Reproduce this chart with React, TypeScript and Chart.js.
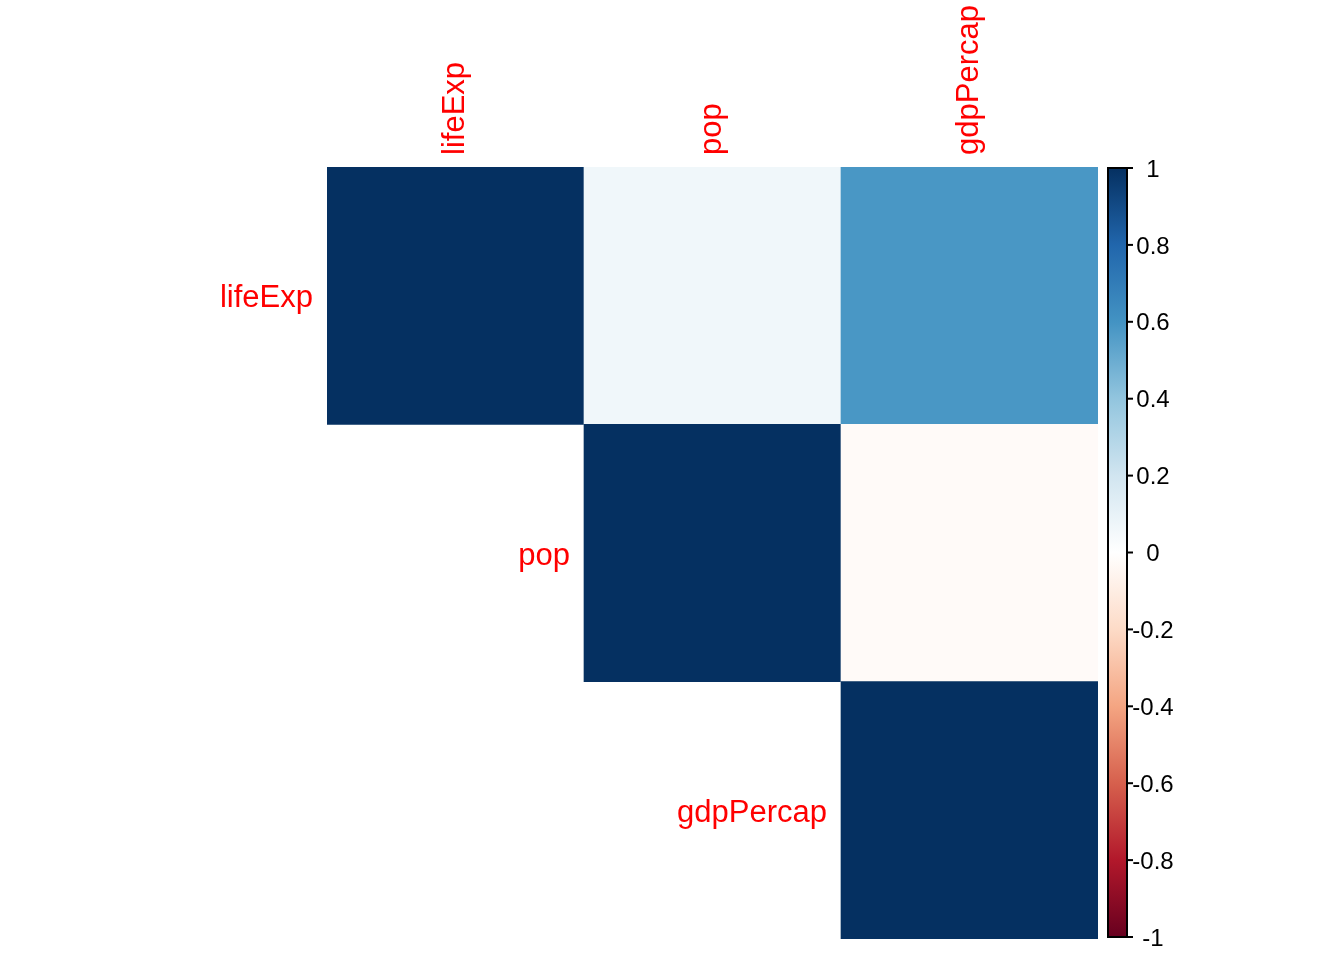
import React, { useEffect, useRef } from "react";
import { Chart, registerables } from "chart.js";

Chart.register(...registerables);

// ---- data ----
const variables = ["lifeExp", "pop", "gdpPercap"];
const corrLifeExp = [1.0, 0.065, 0.584];
const corrPop = [0.065, 1.0, -0.026];
const corrGdpPercap = [0.584, -0.026, 1.0];
const colorbarTicks = [-1, -0.8, -0.6, -0.4, -0.2, 0, 0.2, 0.4, 0.6, 0.8, 1];
const colorbarTickLabels = ["-1", "-0.8", "-0.6", "-0.4", "-0.2", "0", "0.2", "0.4", "0.6", "0.8", "1"];
const paletteRdBu = [
  "#67001F", "#B2182B", "#D6604D", "#F4A582", "#FDDBC7", "#FFFFFF",
  "#D1E5F0", "#92C5DE", "#4393C3", "#2166AC", "#053061",
];

const corrRows = [corrLifeExp, corrPop, corrGdpPercap];

function hexToRgb(h: string) {
  return [parseInt(h.slice(1, 3), 16), parseInt(h.slice(3, 5), 16), parseInt(h.slice(5, 7), 16)];
}
function colorFor(v: number) {
  const t = ((v + 1) / 2) * (paletteRdBu.length - 1);
  const i = Math.max(0, Math.min(paletteRdBu.length - 2, Math.floor(t)));
  const f = t - i;
  const a = hexToRgb(paletteRdBu[i]);
  const b = hexToRgb(paletteRdBu[i + 1]);
  const c = a.map((x, k) => Math.round(x + (b[k] - x) * f));
  return `rgb(${c[0]},${c[1]},${c[2]})`;
}

const cells: { x: number; y: [number, number]; v: number }[] = [];
corrRows.forEach((row, r) => {
  row.forEach((v, c) => {
    if (c >= r) cells.push({ x: c + 0.5, y: [r, r + 1], v });
  });
});

const labelFont = "31px 'Liberation Sans', Arial, sans-serif";
const tickFont = "24px 'Liberation Sans', Arial, sans-serif";

const decorPlugin = {
  id: "corrDecor",
  afterDraw(chart: any) {
    const ctx = chart.ctx as CanvasRenderingContext2D;
    const xs = chart.scales.x;
    const ys = chart.scales.y;
    const yc = chart.scales.yc;
    const area = chart.chartArea;
    ctx.save();
    // column labels (top, rotated)
    ctx.fillStyle = "#FF0000";
    ctx.font = labelFont;
    variables.forEach((name, j) => {
      const x = xs.getPixelForValue(j + 0.5);
      const y = area.top - 12;
      ctx.save();
      ctx.translate(x, y);
      ctx.rotate(-Math.PI / 2);
      ctx.textAlign = "left";
      ctx.textBaseline = "middle";
      ctx.fillText(name, 0, 0);
      ctx.restore();
    });
    // row labels (left of the diagonal)
    variables.forEach((name, i) => {
      const x = xs.getPixelForValue(i) - 14;
      const y = ys.getPixelForValue(i + 0.5) + 3;
      ctx.textAlign = "right";
      ctx.textBaseline = "middle";
      ctx.fillText(name, x, y);
    });

    // colour bar
    const left = area.right + 10;
    const right = area.right + 29;
    const top = yc.getPixelForValue(1);
    const bottom = yc.getPixelForValue(-1);
    const grad = ctx.createLinearGradient(0, bottom, 0, top);
    paletteRdBu.forEach((c, k) => grad.addColorStop(k / (paletteRdBu.length - 1), c));
    ctx.fillStyle = grad;
    ctx.fillRect(left, top, right - left, bottom - top);
    ctx.strokeStyle = "#000000";
    ctx.lineWidth = 2;
    ctx.beginPath();
    ctx.moveTo(left, top);
    ctx.lineTo(left, bottom);
    ctx.moveTo(right, top - 1);
    ctx.lineTo(right, bottom + 1);
    ctx.moveTo(left - 1, top);
    ctx.lineTo(right, top);
    ctx.moveTo(left - 1, bottom);
    ctx.lineTo(right, bottom);
    ctx.stroke();
    // ticks + labels
    ctx.fillStyle = "#000000";
    ctx.font = tickFont;
    ctx.textAlign = "center";
    ctx.textBaseline = "middle";
    colorbarTicks.forEach((v, k) => {
      const y = yc.getPixelForValue(v);
      ctx.beginPath();
      ctx.moveTo(right, y);
      ctx.lineTo(right + 6, y);
      ctx.stroke();
      ctx.fillText(colorbarTickLabels[k], area.right + 55, y + 2);
    });
    ctx.restore();
  },
};

export default function App() {
  const ref = useRef<HTMLCanvasElement | null>(null);
  useEffect(() => {
    if (!ref.current) return;
    const chart = new Chart(ref.current, {
      type: "bar",
      data: {
        datasets: [
          {
            data: cells as any,
            backgroundColor: cells.map((c) => colorFor(c.v)),
            borderWidth: 0,
            barPercentage: 1,
            categoryPercentage: 1,
          },
        ],
      },
      options: {
        animation: false,
        responsive: false,
        events: [],
        layout: { padding: { left: 327, top: 167, right: 246, bottom: 21 } },
        plugins: { legend: { display: false }, tooltip: { enabled: false } },
        scales: {
          x: {
            type: "linear",
            min: 0,
            max: 3,
            offset: false,
            display: false,
            ticks: { stepSize: 1 },
            afterBuildTicks: (s: any) => {
              s.ticks = [0, 1, 2, 3].map((v) => ({ value: v }));
            },
          },
          y: { type: "linear", min: 0, max: 3, reverse: true, display: false },
          yc: { type: "linear", axis: "y", position: "right", min: -1.0052, max: 1.0026, display: false },
        } as any,
      },
      plugins: [decorPlugin],
    });
    return () => chart.destroy();
  }, []);
  return (
    <div style={{ position: "fixed", left: 0, top: 0, width: 1344, height: 960, background: "#fff" }}>
      <canvas ref={ref} width={1344} height={960} />
    </div>
  );
}
